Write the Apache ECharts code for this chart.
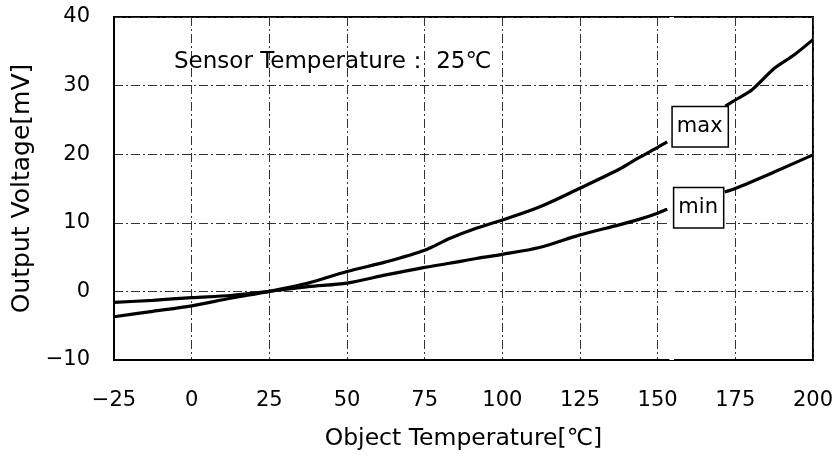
<!DOCTYPE html>
<html>
<head>
<meta charset="utf-8">
<script src="https://cdn.jsdelivr.net/npm/echarts@6/dist/echarts.min.js"></script>
<style>html,body{margin:0;padding:0;background:#fff}#c{width:836px;height:457px}</style>
</head>
<body>
<div id="c"></div>
<script>
var xTicks = [-25, 0, 25, 50, 75, 100, 125, 150, 175, 200];
var yTicks = [-10, 0, 10, 20, 30, 40];
var maxLeft = [[-25,-3.7],[-12.5,-2.9],[0,-2.1],[12.5,-1.0],[25,0],[37.5,1.2],[50,2.9],[62.5,4.3],[75,6.0],[83,7.7],[91.6,9.2],[100,10.4],[111.9,12.3],[124.8,15.0],[137.6,17.8],[144,19.5],[150,21.0],[153.1,21.8]];
var maxRight = [[171.8,27.0],[175,27.9],[180.4,29.4],[187.5,32.5],[194,34.5],[200,36.7]];
var minLeft = [[-25,-1.6],[-12.5,-1.3],[0,-0.9],[12.5,-0.6],[25,0],[37.5,0.7],[50,1.2],[62.5,2.4],[75,3.5],[83,4.1],[91.6,4.8],[100,5.4],[111.9,6.4],[124.8,8.2],[137.6,9.7],[144,10.5],[150,11.4],[153.1,12.0]];
var minRight = [[171.6,14.5],[175,15.0],[187.5,17.4],[200,19.9]];
var labelMax = {name: 'max', coord: [163.7, 24.0]};
var labelMin = {name: 'min', coord: [163.2, 12.2]};
var gapRange = [153.8, 155.3];

var font = 'DejaVu Sans';
var chart = echarts.init(document.getElementById('c'));
var lineStyle = {color: '#000', width: 3.2};
function boxLabel(p) {
  return {
    name: p.name, coord: p.coord, symbol: 'rect', symbolSize: 0,
    label: {show: true, position: 'inside', formatter: p.name, color: '#000',
      fontFamily: font, fontSize: 21, backgroundColor: '#fff', borderColor: '#000',
      borderWidth: 1.5, padding: [5, 5, 4, 4], lineHeight: 30}
  };
}
function fmt(list) {
  return function (v) { return list.indexOf(v) >= 0 ? (v < 0 ? '\u2212' + (-v) : String(v)) : ''; };
}
chart.setOption({
  animation: false,
  backgroundColor: '#fff',
  title: {text: 'Sensor Temperature\uFF1A 25℃', left: 169, top: 46,
    textStyle: {fontFamily: font, fontSize: 23, fontWeight: 'normal', color: '#000'}},
  grid: {left: 114, right: 22, top: 17, bottom: 97, show: true, borderColor: '#000', borderWidth: 2},
  xAxis: {
    type: 'value', min: -25, max: 200, interval: 25,
    name: 'Object Temperature[℃]', nameLocation: 'middle', nameGap: 67,
    nameTextStyle: {fontFamily: font, fontSize: 23.5, color: '#000'},
    axisLine: {show: true, onZero: false, lineStyle: {color: '#000', width: 2}},
    axisTick: {show: false},
    axisLabel: {margin: 30, fontFamily: font, fontSize: 21, color: '#000', formatter: fmt(xTicks)},
    splitLine: {show: true, lineStyle: {color: '#333', width: 1, type: [9, 3, 2, 3]}}
  },
  yAxis: {
    type: 'value', min: -10, max: 40, interval: 10,
    name: 'Output Voltage[mV]', nameLocation: 'middle', nameGap: 75,
    nameTextStyle: {fontFamily: font, fontSize: 25, color: '#000'},
    axisLine: {show: true, onZero: false, lineStyle: {color: '#000', width: 2}},
    axisTick: {show: false},
    axisLabel: {margin: 24, fontFamily: font, fontSize: 21, color: '#000', formatter: fmt(yTicks)},
    splitLine: {show: true, lineStyle: {color: '#333', width: 1, type: [9, 3, 2, 3]}}
  },
  series: [
    {type: 'line', data: maxLeft, showSymbol: false, lineStyle: lineStyle, smooth: 0.3,
      markArea: {silent: true, itemStyle: {color: '#fff'}, data: [[{xAxis: gapRange[0], yAxis: -10}, {xAxis: gapRange[1], yAxis: 40}]]}},
    {type: 'line', data: maxRight, showSymbol: false, lineStyle: lineStyle, smooth: 0.3},
    {type: 'line', data: minLeft, showSymbol: false, lineStyle: lineStyle, smooth: 0.3},
    {type: 'line', data: minRight, showSymbol: false, lineStyle: lineStyle, smooth: 0.3,
      markPoint: {silent: true, data: [boxLabel(labelMax), boxLabel(labelMin)]}}
  ]
});
</script>
</body>
</html>
